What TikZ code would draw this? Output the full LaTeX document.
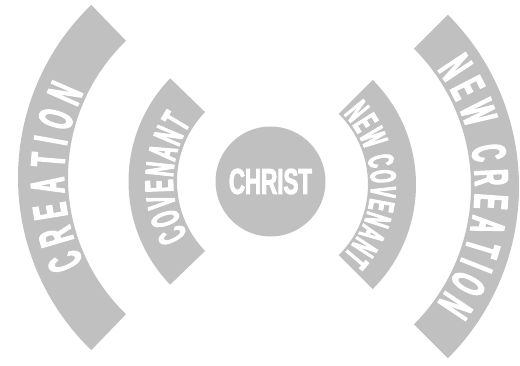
\documentclass[tikz,border=0pt]{standalone}
\usepackage{fontspec}
\usetikzlibrary{decorations.text}
\newfontfamily\condsans{Liberation Sans Bold}[FakeStretch=0.47,FakeBold=2.5]
\newfontfamily\condwide{Liberation Sans Bold}[FakeStretch=0.62,FakeBold=2.5]
\definecolor{bandgray}{RGB}{192,192,192}
\newcommand\crefont{\condsans\fontsize{48}{48}\selectfont}
\newcommand\covfont{\condsans\fontsize{40}{40}\selectfont}
\newcommand\ncovfont{\condsans\fontsize{36}{36}\selectfont}
\newcommand\ncrefont{\condsans\fontsize{48}{48}\selectfont}
\tikzset{
  band/.style={fill=bandgray},
  bandtext/.style={decorate,decoration={text along path,text align=fit to path,text color=white,text={#1}}}
}

\begin{document}
\begin{tikzpicture}[x=1pt,y=1pt]
\useasboundingbox (0,0) rectangle (520,365);
\coordinate (cre) at (258,187.5);
\coordinate (cov) at (277,183.5);
\coordinate (ncov) at (268,180.5);
\coordinate (ncre) at (276,178.5);
% the four bands
\fill[band] (cre) ++(134:240) arc[start angle=134,end angle=226,radius=240] -- ++(46:50) arc[start angle=226,end angle=134,radius=190] -- cycle;
\fill[band] (cov) ++(136:148.5) arc[start angle=136,end angle=224,radius=148.5] -- ++(44:48.5) arc[start angle=224,end angle=136,radius=100] -- cycle;
\fill[band] (ncov) ++(45:148) arc[start angle=45,end angle=-45,radius=148] -- ++(135:48) arc[start angle=-45,end angle=45,radius=100] -- cycle;
\fill[band] (ncre) ++(45:243) arc[start angle=45,end angle=-45,radius=243] -- ++(135:48) arc[start angle=-45,end angle=45,radius=195] -- cycle;
% texts along the bands
\path[bandtext={|\crefont|CREATION}] ([shift={(206:194)}]cre) arc[start angle=206,end angle=154,radius=194];
\path[bandtext={|\covfont|COVENANT}] ([shift={(211:104)}]cov) arc[start angle=211,end angle=146,radius=104];
\path[bandtext={|\ncovfont|NEW COVENANT}] ([shift={(43:103)}]ncov) arc[start angle=43,end angle=-43,radius=103];
\path[bandtext={|\ncrefont|NEW CREATION}] ([shift={(36:199)}]ncre) arc[start angle=36,end angle=-36,radius=199];
% centre
\node[circle,fill=bandgray,minimum size=110pt,inner sep=0pt,text=white,font=\condwide\fontsize{36}{36}\selectfont] (christ) at (270.5,183.5) {CHRIST};
\end{tikzpicture}
\end{document}
